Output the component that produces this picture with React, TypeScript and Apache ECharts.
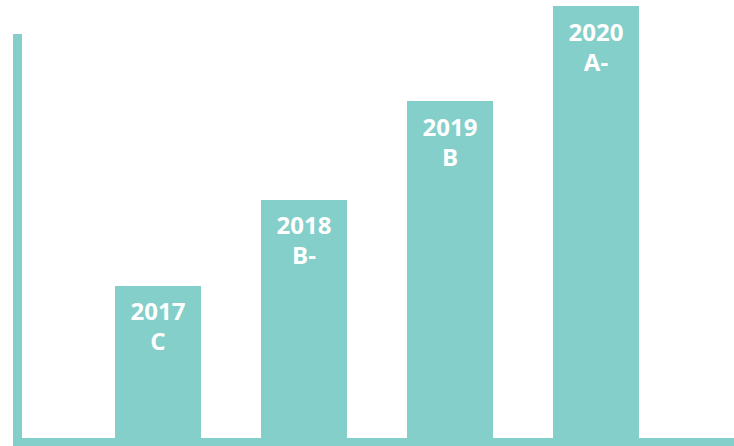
import React, { useEffect, useRef } from "react";
import * as echarts from "echarts";

const categories = ["2017", "2018", "2019", "2020"];
const grades = ["C", "B-", "B", "A-"];
const values = [35.2, 55.1, 78, 100];

const COLOR = "#84cfca";

export default function App() {
  const ref = useRef<HTMLDivElement>(null);
  useEffect(() => {
    if (!ref.current) return;
    const chart = echarts.init(ref.current, undefined, { renderer: "svg" });
    chart.setOption({
      animation: false,
      grid: { left: 85, right: 65, top: 6, bottom: 8 },
      xAxis: {
        type: "category",
        data: categories,
        axisLine: { show: false },
        axisTick: { show: false },
        axisLabel: { show: false },
      },
      yAxis: {
        type: "value",
        min: 0,
        max: 100,
        axisLine: { show: false },
        axisTick: { show: false },
        axisLabel: { show: false },
        splitLine: { show: false },
      },
      graphic: [
        { type: "rect", shape: { x: 13, y: 34, width: 9, height: 412 }, style: { fill: COLOR }, z: 10 },
        { type: "rect", shape: { x: 13, y: 438, width: 721, height: 8 }, style: { fill: COLOR }, z: 10 },
      ],
      series: [
        {
          type: "bar",
          barWidth: 86,
          data: values,
          itemStyle: { color: COLOR },
          label: {
            show: true,
            position: "insideTop",
            distance: 10,
            formatter: (p: any) => `${categories[p.dataIndex]}\n${grades[p.dataIndex]}`,
            color: "#ffffff",
            fontFamily: "Open Sans",
            fontWeight: "bold",
            fontSize: 24,
            lineHeight: 30,
          },
        },
      ],
    });
    return () => chart.dispose();
  }, []);
  return <div ref={ref} style={{ width: 734, height: 446, position: "absolute", left: 0, top: 0 }} />;
}
